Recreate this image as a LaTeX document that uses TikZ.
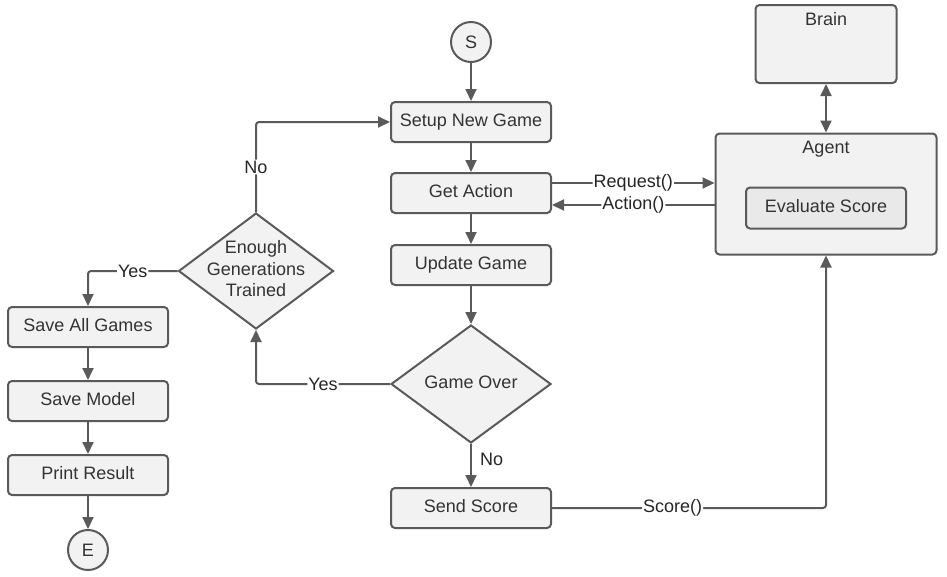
\documentclass[tikz,border=0pt]{standalone}
\usepackage{fontspec}
\setmainfont{Liberation Sans}
\usetikzlibrary{positioning, arrows.meta, shapes.geometric, calc}
\definecolor{linegray}{HTML}{5A5A5A}
\definecolor{boxfill}{HTML}{F2F2F2}
\definecolor{innerfill}{HTML}{E9E9E9}
\definecolor{textgray}{HTML}{333333}
\tikzset{
        my-step/.style={
            rectangle, rounded corners=4pt, draw=linegray, fill=boxfill, line width=2pt,
            minimum width=160pt, minimum height=40pt, text=textgray,
            text height=13pt, text depth=4pt,
            font=\fontsize{18}{21.5}\selectfont
        },
        my-decision/.style={
            diamond, aspect=1.36, draw=linegray, fill=boxfill, line width=2pt, inner sep=0pt,
            minimum width=160pt, minimum height=118pt, text=textgray,
            text height=13pt, text depth=4pt,
            font=\fontsize{18}{21.5}\selectfont
        },
        my-terminal/.style={
            circle, draw=linegray, fill=boxfill, line width=2pt, inner sep=0pt,
            minimum size=40pt, text=textgray, font=\fontsize{18}{21.5}\selectfont
        },
        my-arrow/.style={
            draw=linegray, line width=2pt, rounded corners=3pt, ->
        },
        my-label/.style={
            fill=white, inner sep=1pt, text=black!85, font=\fontsize{18}{21.5}\selectfont
        },
}
\begin{document}
\begin{tikzpicture}[x=1pt, y=-1pt, >={Triangle[length=12pt,width=11pt]}]
        \useasboundingbox (0,0) rectangle (947,576);

        %DRAW NODES (main loop in the middle)
        \node [my-terminal]   (S)      at (471,42)    {S};
        \node [my-step]       (SETUP)  at (471,122)   {Setup New Game};
        \node [my-step]       (GET)    at (471,193)   {Get Action};
        \node [my-step]       (UPDATE) at (471,265)   {Update Game};
        \node [my-decision]   (OVER)   at (471,384)   {Game Over};
        \node [my-step]       (SEND)   at (471,508)   {Send Score};

        % AGENT AND BRAIN
        \node [my-step, minimum width=141pt, minimum height=78pt,
               label={[name=BRAINTXT, anchor=north, inner sep=0pt, yshift=-8.5pt, text=textgray,
                       font=\fontsize{18}{21.5}\selectfont]north:Brain}]
                              (BRAIN)  at (826,44)    {};
        \node [my-step, minimum width=221pt, minimum height=121pt,
               label={[name=AGENTTXT, anchor=north, inner sep=0pt, yshift=-8.5pt, text=textgray,
                       font=\fontsize{18}{21.5}\selectfont]north:Agent}]
                              (AGENT)  at (826,194)   {};
        \node [my-step, fill=innerfill, minimum height=41pt]
                              (EVAL)   at (826,208)   {Evaluate Score};

        % LEFT BRANCH
        \node [my-decision, minimum width=155pt, minimum height=116pt,
               label={[name=ENOUGHTXT, align=center, text=textgray, yshift=2pt,
                       font=\fontsize{18}{21.5}\selectfont]center:Enough\\Generations\\Trained}]
                              (ENOUGH) at (256,271)   {};
        \node [my-step]       (SAVEALL) at (88,327)   {Save All Games};
        \node [my-step]       (MODEL)  at (88,401)    {Save Model};
        \node [my-step]       (PRINT)  at (88,475)    {Print Result};
        \node [my-terminal]   (E)      at (88,550)    {E};

        % CONNECT MAIN LOOP
        \draw [my-arrow] (S) -- (SETUP);
        \draw [my-arrow] (SETUP) -- (GET);
        \draw [my-arrow] (GET) -- (UPDATE);
        \draw [my-arrow] (UPDATE) -- (OVER);
        \draw [my-arrow] (OVER) -- node [my-label, fill=none, pos=.36, right=7pt] {No} (SEND);
        \draw [my-arrow] (OVER.west) -| node [my-label, pos=.25] {Yes} (ENOUGH.south);
        \draw [my-arrow] (ENOUGH.north) |- node [my-label, pos=.25] {No} (SETUP.west);

        % CONNECT AGENT
        \draw [my-arrow] ([yshift=10pt]GET.east) -- node [my-label] {Request()} ([yshift=10pt]GET.east -| AGENT.west);
        \draw [my-arrow] ([yshift=-12pt]GET.east -| AGENT.west) -- node [my-label] {Action()} ([yshift=-12pt]GET.east);
        \draw [my-arrow] (SEND.east) -| node [my-label, pos=.22] {Score()} (AGENT.south);
        \draw [my-arrow, <->] (BRAIN) -- (AGENT);

        % CONNECT LEFT BRANCH
        \draw [my-arrow] (ENOUGH.west) -| node [my-label, pos=.25] {Yes} (SAVEALL.north);
        \draw [my-arrow] (SAVEALL) -- (MODEL);
        \draw [my-arrow] (MODEL) -- (PRINT);
        \draw [my-arrow] (PRINT) -- (E);

\end{tikzpicture}
\end{document}
